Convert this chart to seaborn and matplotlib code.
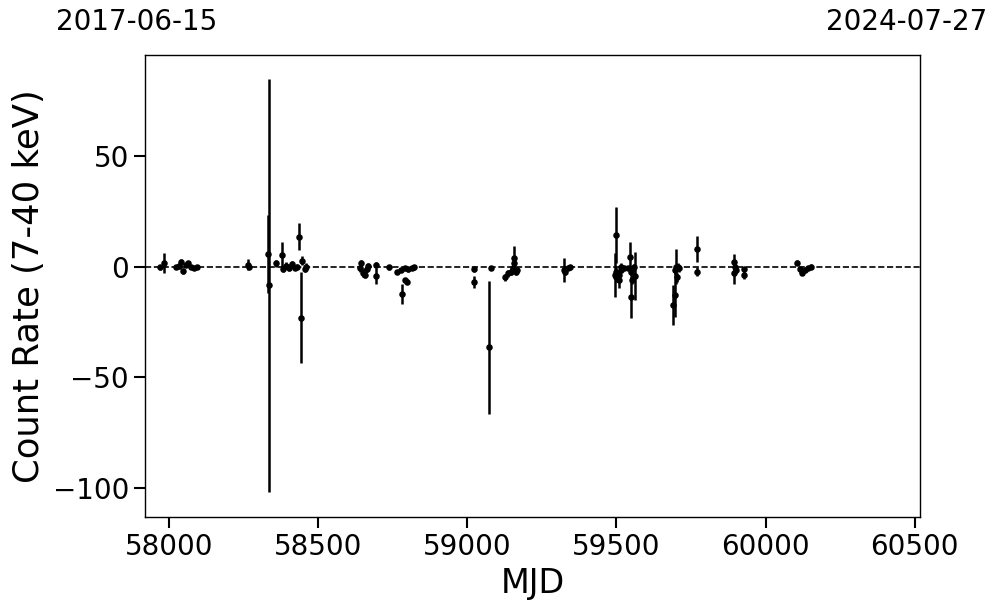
import matplotlib
matplotlib.use("Agg")
import matplotlib.pyplot as plt
import seaborn as sns
import pandas as pd

mjd = [57970, 57983, 58024, 58034, 58040, 58047, 58057, 58064, 58074, 58084, 58094,
       58263, 58269,
       58331, 58336, 58357, 58377, 58381, 58391, 58401, 58411, 58421, 58428, 58435,
       58441, 58446, 58455, 58460,
       58640, 58645, 58650, 58652, 58657, 58662, 58666, 58695, 58695, 58738,
       58764, 58776, 58780, 58791, 58791, 58798, 58802, 58813, 58821,
       59023, 59023, 59071, 59078,
       59127, 59137, 59147, 59154, 59157, 59158, 59164, 59168,
       59324, 59329, 59337, 59344,
       59497, 59495, 59497, 59497, 59507, 59510, 59514, 59516, 59524, 59538,
       59546, 59550, 59553, 59550, 59558, 59561,
       59688, 59696, 59696, 59699, 59702, 59706, 59710, 59770, 59770,
       59895, 59897, 59895, 59901, 59929, 59929,
       60106, 60117, 60122, 60133, 60143, 60153]
rate = [-0.3, 1.5, -0.1, 0.3, 2.1, -1.9, 0.8, 1.7, -0.1, -0.6, -0.1,
        0.8, 0.0,
        5.6, -8.5, 1.5, 5.3, -1.0, 0.5, -0.5, 1.0, -0.5, 0.0, 13.5,
        -23.0, 2.6, -1.0, 0.0,
        -0.7, 1.5, -3.0, -2.3, -3.7, -1.0, 0.5, 0.8, -4.2, -0.3,
        -2.3, -1.5, -12.3, -0.7, -6.0, -6.8, -1.2, -0.7, -0.3,
        -1.2, -7.0, -36.4, -0.5,
        -4.8, -3.0, -2.3, -0.7, 1.5, 3.8, -2.3, -1.5,
        -1.5, -2.3, -0.7, -0.3,
        14.3, -3.7, -2.3, -4.8, -6.0, -3.7, -1.5, 0.0, -0.7, -0.7,
        4.5, -2.3, -6.0, -13.8, -0.3, -4.2,
        -17.3, -12.8, -1.5, 0.0, -4.8, 0.0, -0.7, 7.9, -2.3,
        2.3, 0.0, -2.7, -1.5, -1.2, -3.9,
        1.8, -1.2, -2.7, -1.5, -0.7, 0.0]
err = [1.0, 4.5, 1.0, 1.2, 1.5, 1.5, 1.0, 1.0, 1.0, 1.0, 1.0,
       2.5, 1.2,
       17.5, 93.4, 1.5, 6.0, 1.5, 1.5, 1.5, 1.5, 1.0, 1.0, 6.0,
       20.5, 2.0, 1.5, 1.5,
       1.5, 1.5, 1.5, 1.5, 1.5, 1.5, 1.0, 1.5, 3.5, 1.0,
       1.0, 1.0, 4.5, 1.0, 1.0, 1.0, 1.0, 1.0, 1.0,
       1.0, 2.6, 30.0, 1.0,
       1.5, 1.5, 1.5, 1.5, 1.5, 5.5, 1.5, 1.5,
       5.3, 1.5, 1.0, 1.0,
       12.8, 10.0, 2.0, 2.0, 3.5, 2.0, 1.5, 1.5, 1.0, 1.0,
       6.8, 2.0, 2.0, 9.4, 1.5, 11.0,
       8.9, 10.0, 2.0, 8.0, 2.0, 1.5, 1.5, 6.0, 2.0,
       3.5, 1.5, 5.0, 1.5, 1.0, 1.5,
       1.0, 1.0, 1.0, 1.0, 1.0, 1.0]

xticks = [58000, 58500, 59000, 59500, 60000, 60500]
yticks = [-100, -50, 0, 50]
date_start = "2017-06-15"
date_end = "2024-07-27"

df = pd.DataFrame({"MJD": mjd, "rate": rate, "err": err})

sns.set_style("ticks")
plt.rcParams['font.family'] = ['DejaVu Sans']
plt.rcParams.update({"text.color": "black", "axes.labelcolor": "black",
                     "xtick.color": "black", "ytick.color": "black",
                     "axes.edgecolor": "black"})

fig = plt.figure(figsize=(9.97, 6.13), dpi=100)
ax = fig.add_axes([145/997, 1 - 517/613, (920 - 145)/997, (517 - 55)/613])

ax.axhline(0, color="black", linestyle="--", linewidth=1.2, zorder=1)
ax.errorbar(df["MJD"], df["rate"], yerr=df["err"], fmt="none", ecolor="black",
            elinewidth=1.8, capsize=0, zorder=2)
sns.scatterplot(data=df, x="MJD", y="rate", ax=ax, color="black", s=22,
                edgecolor="black", linewidth=0, zorder=3)

ax.set_xlim(57919, 60518)
ax.set_ylim(-113.1, 95.6)
ax.set_xticks(xticks)
ax.set_yticks(yticks)
ax.set_xticklabels([str(t) for t in xticks])
ax.set_yticklabels([f"\u2212{abs(t)}" if t < 0 else str(t) for t in yticks])
ax.tick_params(axis="both", labelsize=20, length=8, width=1.5, direction="out",
               colors="black")
ax.set_xlabel("MJD", fontsize=24, labelpad=4)
ax.set_ylabel("Count Rate (7-40 keV)", fontsize=25.5, labelpad=5)
for sp in ax.spines.values():
    sp.set_linewidth(1.0)
    sp.set_color("black")

fig.text(137/997, 1 - 22/613, date_start, fontsize=20, ha="center", va="center")
fig.text(907/997, 1 - 22/613, date_end, fontsize=20, ha="center", va="center")

fig.savefig("out.png", dpi=100)
